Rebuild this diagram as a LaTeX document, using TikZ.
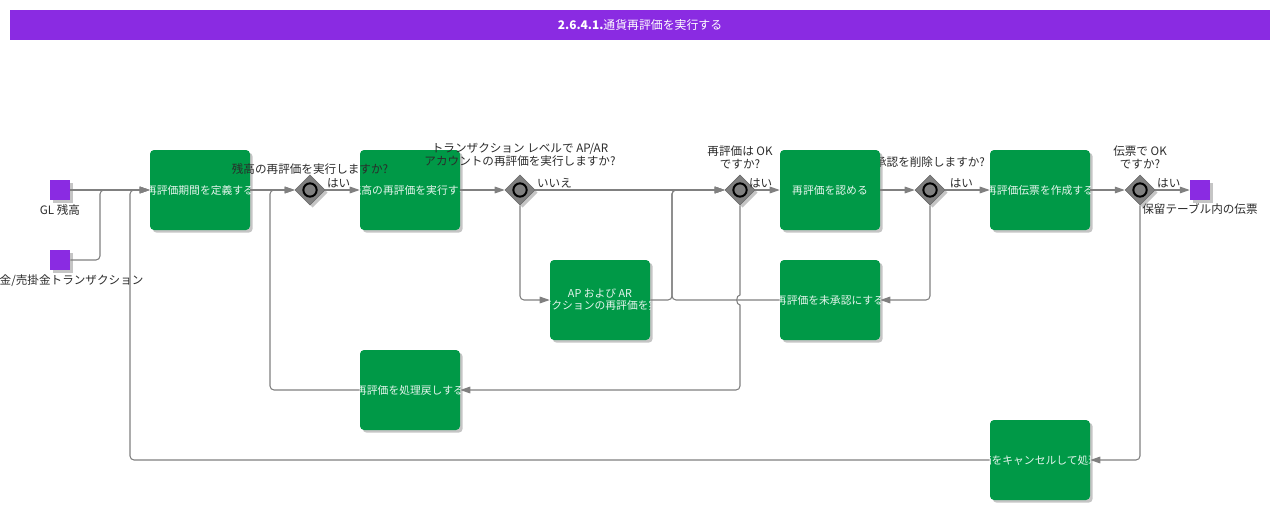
\documentclass[tikz,border=0pt]{standalone}
\usepackage{fontspec}
\setmainfont{Noto Sans CJK JP}
\usetikzlibrary{shapes.geometric,arrows.meta,shadows}
\definecolor{flowpurple}{HTML}{8A2BE2}
\definecolor{taskgreen}{HTML}{009947}
\definecolor{linegray}{HTML}{808080}
\definecolor{labelgray}{HTML}{2B2B2B}

\begin{document}
\begin{tikzpicture}[x=0.75pt, y=-0.75pt,
    every node/.style={font=\fontsize{8.7}{9.8}\selectfont, text=labelgray},
    shade/.style={drop shadow={shadow xshift=2pt, shadow yshift=-2pt, fill=black!45, opacity=0.5}},
    task/.style={shade, fill=taskgreen, rounded corners=3pt, minimum width=75pt, minimum height=60pt, inner sep=0pt,
      path picture={\node[text=white!90!taskgreen, align=center, font=\fontsize{8.1}{9}\selectfont] at (path picture bounding box.center) {#1};}},
    event/.style={shade, fill=flowpurple, minimum size=15pt, inner sep=0pt},
    gateway/.style={shade, diamond, fill=linegray, draw=linegray!80!black, minimum size=22.5pt, inner sep=0pt,
      path picture={\draw[draw=black, line width=1.5pt, fill=linegray] (path picture bounding box.center) circle (5pt);}},
    flow/.style={draw=linegray, line width=0.8pt, rounded corners=3pt, -{Triangle[length=7.5pt, width=5pt]}},
    answer/.style={above right, inner sep=1pt, pos=0}]
  \useasboundingbox (0,0) rectangle (1280,510);
  \node [fill=flowpurple, minimum width=945pt, minimum height=22.5pt, inner sep=0pt, text=white, font=\fontsize{8.9}{10}\selectfont] (title) at (640,25) {\textbf{2.6.4.1.}通貨再評価を実行する};

  \node [event, label={[inner sep=1pt, label distance=2pt]below:GL 残高}] (glbal) at (60,190) {};
  \node [event, label={[inner sep=1pt, label distance=2pt]below:買掛金/売掛金トランザクション}] (aptrans) at (60,260) {};
  \node [event, label={[inner sep=1pt, label distance=1pt]below:保留テーブル内の伝票}] (pending) at (1200,190) {};

  \node [task={再評価期間を定義する}] (period) at (200,190) {};
  \node [task={残高の再評価を実行する}] (runbal) at (410,190) {};
  \node [gateway, label={[inner sep=1pt, label distance=-1pt]above:残高の再評価を実行しますか?}] (askbal) at (310,190) {};
  \node [gateway, label={[align=center, inner sep=1pt, label distance=5pt]above:トランザクション レベルで AP/AR\\アカウントの再評価を実行しますか?}] (asktrans) at (520,190) {};
  \node [task={AP および AR\\トランザクションの再評価を実行する}] (runtrans) at (600,300) {};
  \node [gateway, label={[align=center, inner sep=1pt, label distance=3pt]above:再評価は OK\\ですか?}] (askok) at (740,190) {};
  \node [gateway, label={[inner sep=1pt, label distance=4pt]above:承認を削除しますか?}] (askdel) at (930,190) {};
  \node [task={再評価を認める}] (approve) at (830,190) {};
  \node [task={再評価を未承認にする}] (unapprove) at (830,300) {};
  \node [task={再評価伝票を作成する}] (voucher) at (1040,190) {};
  \node [gateway, label={[align=center, inner sep=1pt, label distance=3pt]above:伝票で OK\\ですか?}] (askvoucher) at (1140,190) {};
  \node [task={再評価を処理戻しする}] (undo) at (410,390) {};
  \node [task={再評価をキャンセルして処理する}] (cancel) at (1040,460) {};

  \draw [flow] (glbal) -- (period);
  \draw [flow] (aptrans) -- (100,260) |- (period);
  \draw [flow] (cancel) -- (130,460) |- (period);
  \draw [flow] (period) -- (askbal);
  \draw [flow] (askbal) -- node[answer] {はい} (runbal);
  \draw [flow] (undo) -- (270,390) |- (askbal);
  \draw [flow] (runbal) -- (asktrans);
  \draw [flow] (asktrans) -- node[answer] {いいえ} (askok);
  \draw [flow] (asktrans) |- (runtrans);
  \draw [flow] (runtrans) -- (672,300) |- (askok);
  \draw [flow] (unapprove) -- (672,300) |- (askok);
  \draw [flow] (askok) -- node[answer, xshift=-6pt] {はい} (approve);
  \draw [flow] (askok) [sharp corners] -- (740,295) arc[start angle=90, end angle=270, x radius=2.5pt, y radius=3.75pt] [rounded corners=3pt] -- (740,390) -- (undo);
  \draw [flow] (approve) -- (askdel);
  \draw [flow] (askdel) -- node[answer, xshift=2pt] {はい} (voucher);
  \draw [flow] (askdel) |- (unapprove);
  \draw [flow] (voucher) -- (askvoucher);
  \draw [flow] (askvoucher) -- node[answer] {はい} (pending);
  \draw [flow] (askvoucher) |- (cancel);
\end{tikzpicture}
\end{document}
